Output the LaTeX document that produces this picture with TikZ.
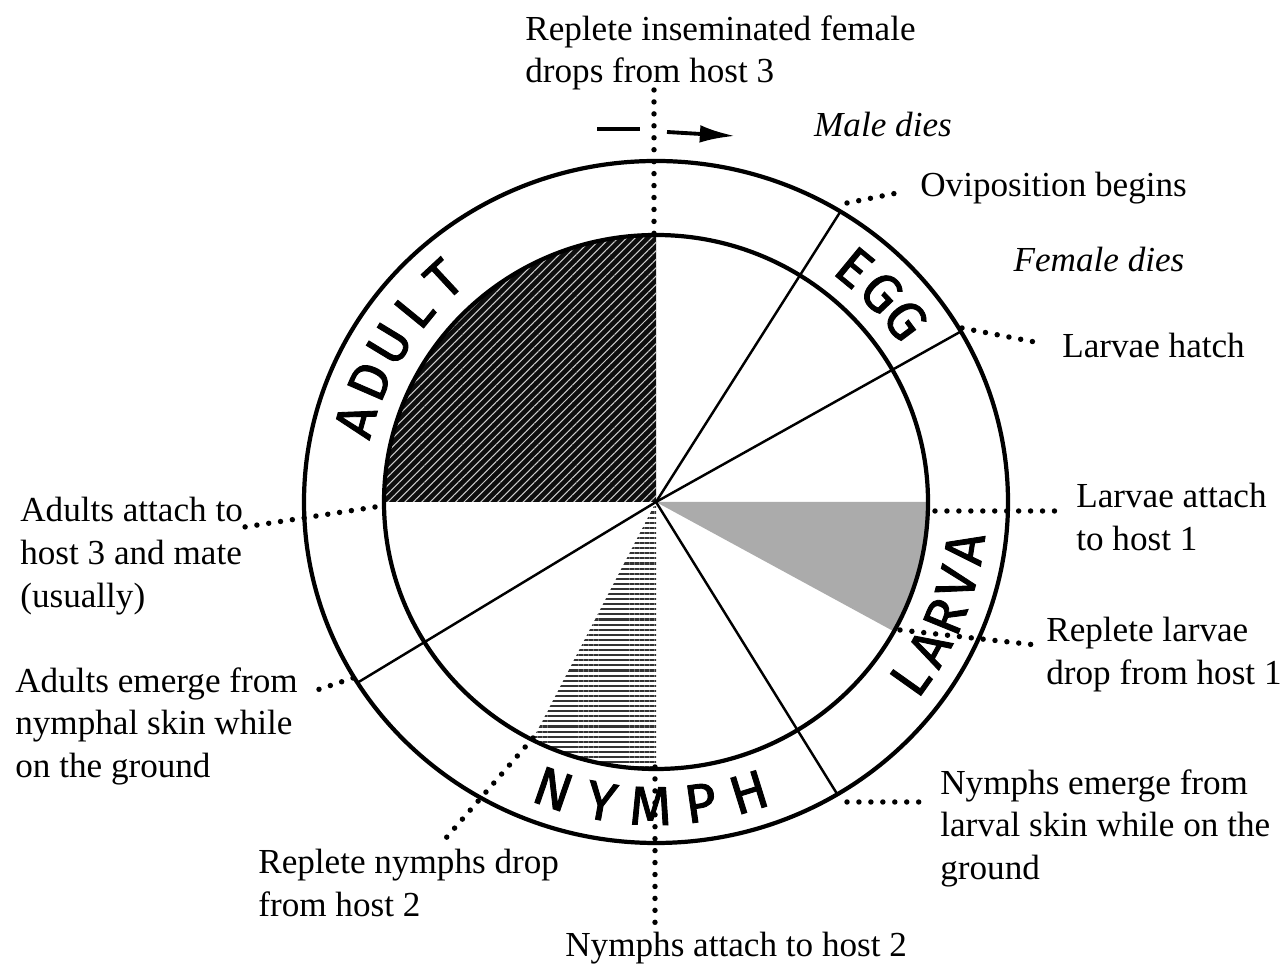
\documentclass[tikz,border=0pt]{standalone}
\usepackage{fontspec}
\setmainfont{Liberation Serif}
\newfontfamily\ringfont{Fira Sans}[FakeBold=1.6]
\usetikzlibrary{arrows.meta,patterns.meta}

\begin{document}
\begin{tikzpicture}[x=0.02cm, y=0.02cm,
  every node/.style={font=\fontsize{20}{24.4}\selectfont, inner sep=0pt},
  lbl/.style={align=left, anchor=north west},
  note/.style={font=\fontsize{20}{24.4}\selectfont\itshape},
  ringtxt/.style={font=\ringfont\fontsize{31}{31}\selectfont},
  ring/.style={line width=2.4pt},
  spoke/.style={line width=1.4pt},
  lead/.style={line width=3.1pt, line cap=round, dash pattern=on 0pt off 6.8pt},
  arr/.style={-{Latex[length=20pt,width=10pt]}, line width=2.2pt}]
\useasboundingbox (0,0) rectangle (1288,966);

% wheel
\begin{scope}[shift={(656,464)}]
\fill[black!95, postaction={pattern={Lines[angle=45,distance=3.4pt,line width=0.6pt]}, pattern color=white!80!black}]
  (0,0) -- (90:272 and 267) arc[start angle=90, end angle=180, x radius=272, y radius=267] -- cycle;
\fill[black!33]
  (0,0) -- (0:272 and 267) arc[start angle=0, end angle=-29, x radius=272, y radius=267] -- cycle;
\fill[pattern={Lines[angle=0,distance=2.9pt,line width=1.2pt]}, pattern color=black!80]
  (0,0) -- (-117:272 and 267) arc[start angle=-117, end angle=-90, x radius=272, y radius=267] -- cycle;
\draw[ring] (0,0) ellipse[x radius=352, y radius=341];
\draw[ring] (0,0) ellipse[x radius=272, y radius=267];
\foreach \a in {58.4,30,-59,212}
  \draw[spoke] (0,0) -- (\a:352 and 341);
% stage names
\foreach \ch/\a [count=\i] in {A/164.5,D/156.6,U/148.7,L/140.8,T/132.9}
  \node[ringtxt, rotate=\a-90] (adult\i) at (\a:312 and 304) {\ch};
\foreach \ch/\a [count=\i] in {E/50.5,G/43.6,G/36.8}
  \node[ringtxt, rotate=\a-90] (egg\i) at (\a:312 and 304) {\ch};
\foreach \ch/\a [count=\i] in {L/-35.4,A/-28.7,R/-22.1,V/-15.4,A/-8.8}
  \node[ringtxt, rotate=\a+90] (larva\i) at (\a:312 and 304) {\ch};
\foreach \ch/\a [count=\i] in {N/-109.2,Y/-100.1,M/-91,P/-81.8,H/-72.7}
  \node[ringtxt, rotate=\a+90] (nymph\i) at (\a:312 and 304) {\ch};
\end{scope}

% texts
\node[lbl] (femdrop) at (525,951) {Replete inseminated female\\drops from host 3};
\node[note] (maledies) at (883,841) {Male dies};
\node[anchor=west] (ovipos) at (920,778) {Oviposition begins};
\node[note] (femdies) at (1099,706) {Female dies};
\node[anchor=west] (hatch) at (1062,621) {Larvae hatch};
\node[lbl] (larattach) at (1076,483) {Larvae attach\\to host 1};
\node[lbl] (lardrop) at (1046,349) {Replete larvae\\drop from host 1};
\node[lbl] (nymemerge) at (940,197) {Nymphs emerge from\\larval skin while on the\\ground};
\node[lbl] (nymattach) at (565,34) {Nymphs attach to host 2};
\node[lbl] (nymdrop) at (258,117) {Replete nymphs drop\\from host 2};
\node[lbl] (aduemerge) at (15,299) {Adults emerge from\\nymphal skin while\\on the ground};
\node[lbl] (aduattach) at (20,469) {Adults attach to\\host 3 and mate\\(usually)};

% leader ends
\coordinate (femtop) at (654,876);   \coordinate (femin) at (654,731);
\coordinate (ovi) at (847,763);      \coordinate (ovitip) at (902,774);
\coordinate (hatchin) at (962,638);  \coordinate (hatchtip) at (1040,623);
\coordinate (lain) at (935,455);     \coordinate (latip) at (1066,455);
\coordinate (ldin) at (900,336);     \coordinate (ldtip) at (1036,321);
\coordinate (nein) at (847,164);     \coordinate (netip) at (925,164);
\coordinate (nain) at (655,199);     \coordinate (natip) at (655,41);
\coordinate (ndin) at (533,228);     \coordinate (ndtip) at (446,128);
\coordinate (aein) at (353,288);     \coordinate (aetip) at (317,276);
\coordinate (aain) at (375,459);     \coordinate (aatip) at (238,438);
\coordinate (turnA) at (597,837);    \coordinate (turnB) at (640,837);
\coordinate (turnC) at (667,834);    \coordinate (turnD) at (735,830);

\draw[lead] (femtop) -- (femin);
\draw[lead] (ovi) -- (ovitip);
\draw[lead] (hatchin) -- (hatchtip);
\draw[lead] (lain) -- (latip);
\draw[lead] (ldin) -- (ldtip);
\draw[lead] (nein) -- (netip);
\draw[lead] (nain) -- (natip);
\draw[lead] (ndin) -- (ndtip);
\draw[lead] (aein) -- (aetip);
\draw[lead] (aain) -- (aatip);
\draw[line width=2.2pt] (turnA) -- (turnB);
\draw[arr] (turnC) -- (turnD);
\end{tikzpicture}
\end{document}
